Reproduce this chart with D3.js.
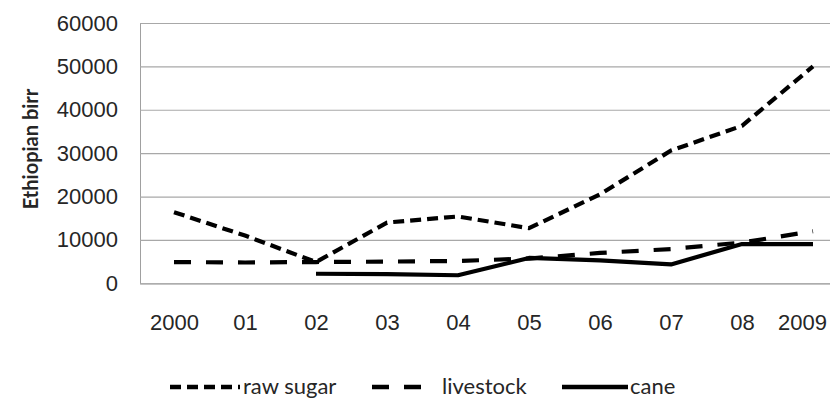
<!DOCTYPE html>
<html>
<head>
<meta charset="utf-8">
<script src="https://cdn.jsdelivr.net/npm/d3@7"></script>
<style>
  html, body { margin: 0; padding: 0; background: #fff; }
  svg { display: block; font-family: Lato, "Open Sans", sans-serif; }
</style>
</head>
<body>
<svg id="chart" width="830" height="398"></svg>
<script>
// ---- data ----
const years = ["2000", "01", "02", "03", "04", "05", "06", "07", "08", "2009"];
const rawSugar = [16400, 11000, 4900, 14000, 15400, 12700, 20500, 30600, 36300, 50000];
const livestock = [4900, 4800, 4900, 5000, 5150, 5700, 7000, 7900, 9400, 12000];
const cane = [null, null, 2200, 2100, 1850, 5850, 5300, 4350, 9050, 9050];
const yTicks = [0, 10000, 20000, 30000, 40000, 50000, 60000];
const seriesNames = ["raw sugar", "livestock", "cane"];
const yTitle = "Ethiopian birr";

// ---- layout ----
const svg = d3.select("#chart");
const W = 830;
const plotLeft = 140, plotTop = 23, plotBottom = 283.3;

const x = d3.scalePoint().domain(years).range([138.5, 848.5]).padding(0.5);
const y = d3.scaleLinear().domain([0, 60000]).range([plotBottom, plotTop]);

// gridlines + y labels
const yAxis = svg.append("g")
  .attr("transform", `translate(${plotLeft},0)`)
  .call(d3.axisLeft(y).tickValues(yTicks).tickSize(-(W - plotLeft)).tickPadding(22).tickFormat(d3.format("d")));
yAxis.select(".domain").attr("stroke", "#a0a0a0").attr("stroke-width", 1);
yAxis.selectAll(".tick line").attr("stroke", "#a8a8a8").attr("stroke-width", 1.2);
yAxis.selectAll(".tick text").attr("fill", "#262626").style("font-size", "22px");

// x labels
const xAxis = svg.append("g")
  .attr("transform", `translate(0,${plotBottom})`)
  .call(d3.axisBottom(x).tickSize(0).tickPadding(31));
xAxis.select(".domain").remove();
xAxis.selectAll(".tick text").attr("fill", "#262626").style("font-size", "22px");
xAxis.selectAll(".tick text").filter(d => d === "2009").attr("dx", -11);

// y title
svg.append("text")
  .attr("transform", `translate(38,149) rotate(-90)`)
  .attr("text-anchor", "middle")
  .style("font-size", "20px")
  .style("font-weight", "bold")
  .attr("fill", "#262626")
  .text(yTitle);

// lines
const styles = {
  "raw sugar": { data: rawSugar, dash: "11,6" },
  "livestock": { data: livestock, dash: "17,15" },
  "cane": { data: cane, dash: null }
};
const line = d3.line()
  .defined(d => d.v !== null)
  .x(d => x(d.k))
  .y(d => y(d.v));

seriesNames.forEach(name => {
  const s = styles[name];
  const pts = years.map((k, i) => ({ k, v: s.data[i] }));
  svg.append("path")
    .datum(pts)
    .attr("d", line)
    .attr("fill", "none")
    .attr("stroke", "#000")
    .attr("stroke-width", 4.2)
    .attr("stroke-linejoin", "round")
    .attr("stroke-dasharray", s.dash);
});

// legend
const legendItems = [
  { name: "raw sugar", x0: 170, x1: 240, tx: 243 },
  { name: "livestock", x0: 372, x1: 425, tx: 442 },
  { name: "cane", x0: 562, x1: 628, tx: 630 }
];
const lg = svg.append("g");
legendItems.forEach(it => {
  lg.append("line")
    .attr("x1", it.x0).attr("x2", it.x1)
    .attr("y1", 387).attr("y2", 387)
    .attr("stroke", "#000").attr("stroke-width", 4.5)
    .attr("stroke-dasharray", styles[it.name].dash);
  lg.append("text")
    .attr("x", it.tx).attr("y", 388)
    .attr("dominant-baseline", "middle")
    .attr("fill", "#262626")
    .style("font-size", "22px")
    .text(it.name);
});
</script>
</body>
</html>
